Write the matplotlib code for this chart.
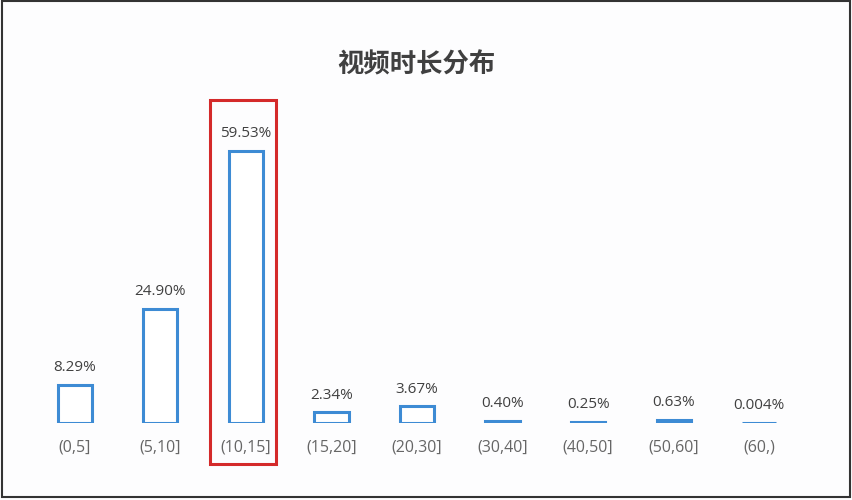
import matplotlib
matplotlib.use("Agg")
import matplotlib.pyplot as plt
from matplotlib.patches import Rectangle
import numpy as np

plt.rcParams['font.family'] = ['Open Sans', 'Noto Sans CJK SC', 'DejaVu Sans']

categories = ['(0,5]', '(5,10]', '(10,15]', '(15,20]', '(20,30]',
              '(30,40]', '(40,50]', '(50,60]', '(60,)']
shares = [8.29, 24.90, 59.53, 2.34, 3.67, 0.40, 0.25, 0.63, 0.004]
share_labels = ['8.29%', '24.90%', '59.53%', '2.34%', '3.67%',
                '0.40%', '0.25%', '0.63%', '0.004%']
title = '视频时长分布'

fig = plt.figure(figsize=(8.53, 5.0), dpi=100)
fig.patch.set_facecolor('#fdfdfe')
ax = fig.add_axes([0.0375, 0.154, 0.9027, 0.64])
ax.set_facecolor('none')

x = np.arange(len(categories))
bars = ax.bar(x, shares, width=0.4, facecolor='white',
              edgecolor='#3d8bd4', linewidth=2.2)

# value labels above each bar
for i, rect in enumerate(bars):
    ax.annotate(share_labels[i], (rect.get_x() + rect.get_width() / 2, rect.get_height()),
                xytext=(0, 7), textcoords='offset points', ha='center', va='bottom',
                fontsize=11, color='#404040')

ax.set_xlim(-0.5, len(categories) - 0.5)
ax.set_ylim(0, 70)
ax.set_xticks(x)
ax.set_xticklabels(categories, fontsize=11.5, color='#666666')
ax.tick_params(axis='x', length=0, pad=12)
ax.set_yticks([])
for s in ax.spines.values():
    s.set_visible(False)

# red box around the biggest group
top = int(np.argmax(shares))
ax.add_patch(Rectangle((top - 0.42, -9.0), 0.77, 79.7, fill=False,
                       edgecolor='#d42a2a', linewidth=2.2, clip_on=False))

fig.text(0.488, 0.87, title, family=['Noto Sans CJK SC'], ha='center', va='center',
         fontsize=19, fontweight='bold', color='#404040')

# screenshot frame
fig.patches.append(Rectangle((0.002, 0.006), 0.995, 0.992, transform=fig.transFigure,
                             fill=False, edgecolor='#333333', linewidth=1.5))

fig.savefig('out.png', dpi=100, facecolor=fig.get_facecolor())
